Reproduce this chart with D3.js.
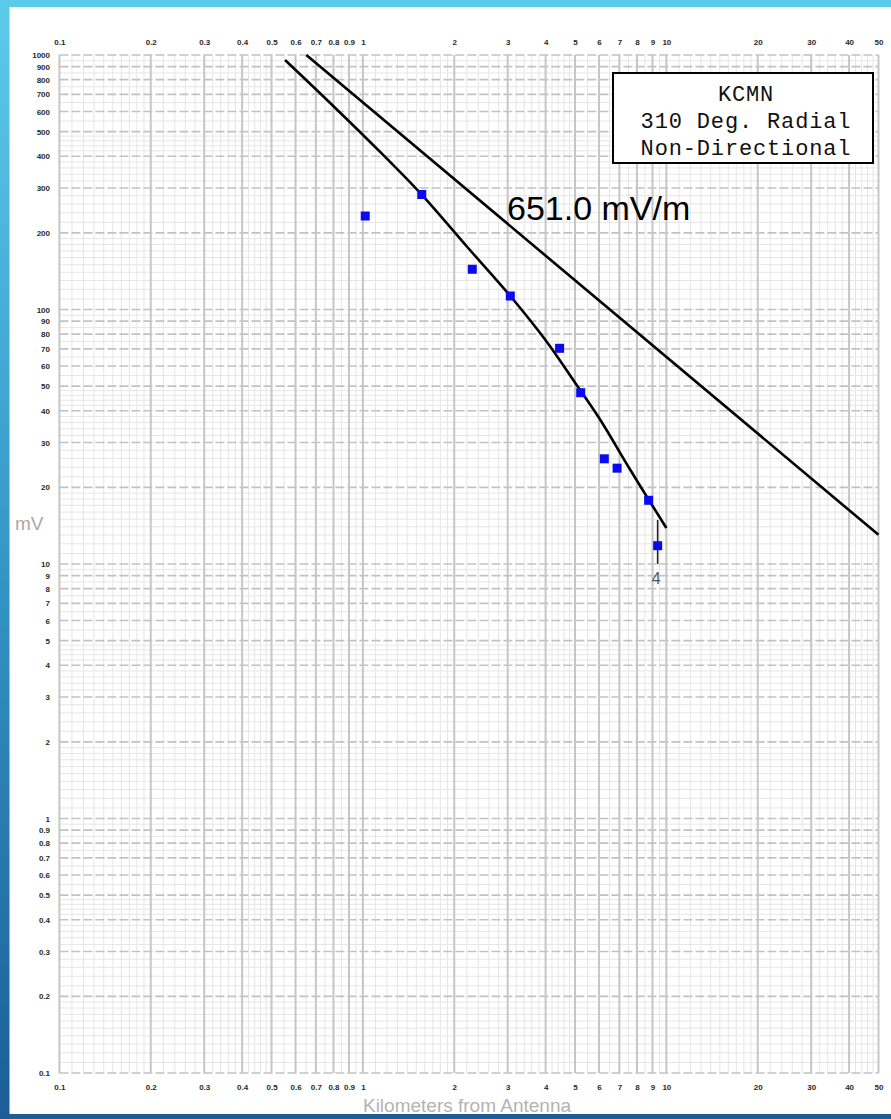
<!DOCTYPE html>
<html>
<head>
<meta charset="utf-8">
<script src="https://cdn.jsdelivr.net/npm/d3@7"></script>
<style>
  html, body { margin: 0; padding: 0; background: #fff; }
  svg { display: block; }
</style>
</head>
<body>
<script>
// Field strength measurements along the radial (distance km, field mV/m)
const measuredKm = [1.018, 1.563, 2.293, 3.06, 4.448, 5.22, 6.245, 6.88, 8.74, 9.36];
const measuredMv = [233, 283, 143.9, 113, 70.4, 47.1, 25.9, 23.8, 17.8, 11.8];

// Fitted ground-wave curve through the measurements
const curveKm = [0.554, 0.78, 1.14, 1.557, 2.19, 3.06, 3.99, 5.01, 6.06, 7.61, 10.0];
const curveMv = [956, 648, 416, 284, 178, 113, 76, 51.4, 36.8, 23.4, 13.85];

// Unattenuated field at 1 km; the inverse-distance line runs from 1000 mV/m out to 50 km
const unattenuatedMv = 651.0;
const inverseEndKm = 50;

// Last measurement marker
const markerKm = 9.36;
const markerFromMv = 14.9;
const markerToMv = 10;
const markerLabel = "4";

const xTickLabels = [0.1, 0.2, 0.3, 0.4, 0.5, 0.6, 0.7, 0.8, 0.9, 1, 2, 3, 4, 5, 6, 7, 8, 9, 10, 20, 30, 40, 50];
const yTickLabels = [1000, 900, 800, 700, 600, 500, 400, 300, 200, 100, 90, 80, 70, 60, 50, 40, 30, 20,
  10, 9, 8, 7, 6, 5, 4, 3, 2, 1, 0.9, 0.8, 0.7, 0.6, 0.5, 0.4, 0.3, 0.2, 0.1];

const legendLines = ["KCMN", "310 Deg. Radial", "Non-Directional"];
const fieldLabel = "651.0 mV/m";
const xTitle = "Kilometers from Antenna";
const yTitle = "mV";

const W = 891, H = 1119;
const svg = d3.select("body").append("svg").attr("width", W).attr("height", H);

const x = d3.scaleLog().domain([0.1, 50]).range([59.4, 878.5]);
const y = d3.scaleLog().domain([0.1, 1000]).range([1073, 55]);
const [x0, x1] = x.range();
const [y0, y1] = y.range();

// ---- graph paper ----
function majorValues(lo, hi) {
  const out = [];
  for (let e = Math.floor(Math.log10(lo)); e <= Math.ceil(Math.log10(hi)); e++) {
    for (let m = 1; m <= 9; m++) {
      const v = +(m * Math.pow(10, e)).toPrecision(6);
      if (v >= lo - 1e-9 && v <= hi + 1e-9) out.push(v);
    }
  }
  return out;
}
function minorValues(lo, hi) {
  const out = [];
  for (let e = Math.floor(Math.log10(lo)); e <= Math.ceil(Math.log10(hi)); e++) {
    const steps = [];
    for (let m = 11; m < 20; m++) steps.push(m);
    for (let m = 22; m < 50; m += 2) if (m % 10) steps.push(m);
    for (let m = 55; m < 100; m += 10) steps.push(m);
    steps.forEach(m => {
      const v = +(m / 10 * Math.pow(10, e)).toPrecision(6);
      if (v > lo && v < hi) out.push(v);
    });
  }
  return out;
}

const grid = svg.append("g");
grid.selectAll(".vmin").data(minorValues(0.1, 50)).join("line")
  .attr("x1", d => x(d)).attr("x2", d => x(d)).attr("y1", y1).attr("y2", y0)
  .attr("stroke", "#e6e6e6").attr("stroke-width", 1);
grid.selectAll(".hmin").data(minorValues(0.1, 1000)).join("line")
  .attr("y1", d => y(d)).attr("y2", d => y(d)).attr("x1", x0).attr("x2", x1)
  .attr("stroke", "#e6e6e6").attr("stroke-width", 1);
grid.selectAll(".hmaj").data(majorValues(0.1, 1000)).join("line")
  .attr("y1", d => y(d)).attr("y2", d => y(d)).attr("x1", x0).attr("x2", x1)
  .attr("stroke", "#c2c2c2").attr("stroke-width", 1.6).attr("stroke-dasharray", "9,3");
grid.selectAll(".vmaj").data(majorValues(0.1, 50)).join("line")
  .attr("x1", d => x(d)).attr("x2", d => x(d)).attr("y1", y1).attr("y2", y0)
  .attr("stroke", "#c6c6c6").attr("stroke-width", 2);

// ---- tick labels ----
const fmt = d => String(d);
function styleAxis(g) {
  g.select(".domain").remove();
  g.selectAll("text")
    .attr("font-family", "'Liberation Sans', Arial, sans-serif")
    .attr("font-size", 8).attr("font-weight", "bold").attr("fill", "#2a2a2a");
}
svg.append("g").attr("transform", "translate(0,45)")
  .call(d3.axisTop(x).tickValues(xTickLabels).tickFormat(fmt).tickSize(0).tickPadding(0))
  .call(styleAxis);
svg.append("g").attr("transform", `translate(0,${y0 + 11})`)
  .call(d3.axisBottom(x).tickValues(xTickLabels).tickFormat(fmt).tickSize(0).tickPadding(0))
  .call(styleAxis);
svg.append("g").attr("transform", "translate(50,0)")
  .call(d3.axisLeft(y).tickValues(yTickLabels).tickFormat(fmt).tickSize(0).tickPadding(0))
  .call(styleAxis);

// ---- curves ----
const inverseKm = [unattenuatedMv / 1000, inverseEndKm];
const straight = d3.line().x(d => x(d)).y(d => y(unattenuatedMv / d));
svg.append("path").attr("d", straight(inverseKm))
  .attr("fill", "none").attr("stroke", "#000").attr("stroke-width", 2.6);

const curvePts = curveKm.map((k, i) => [k, curveMv[i]]);
const smooth = d3.line().x(d => x(d[0])).y(d => y(d[1])).curve(d3.curveCatmullRom.alpha(0.5));
svg.append("path").attr("d", smooth(curvePts))
  .attr("fill", "none").attr("stroke", "#000").attr("stroke-width", 2.6)
  .attr("stroke-linejoin", "round");

// marker for the last measurement
svg.append("line")
  .attr("x1", x(markerKm)).attr("x2", x(markerKm))
  .attr("y1", y(markerFromMv)).attr("y2", y(markerToMv))
  .attr("stroke", "#222").attr("stroke-width", 1.6);
svg.append("text").attr("x", x(markerKm) - 1.5).attr("y", y(markerToMv) + 19.5)
  .attr("text-anchor", "middle")
  .attr("font-family", "'Liberation Sans', Arial, sans-serif").attr("font-size", 16)
  .attr("fill", "#555").text(markerLabel);

// measurement squares
const pts = measuredKm.map((k, i) => [k, measuredMv[i]]);
svg.selectAll(".pt").data(pts).join("rect")
  .attr("x", d => x(d[0]) - 4.5).attr("y", d => y(d[1]) - 4.5)
  .attr("width", 9).attr("height", 9).attr("fill", "#0a0af2");

// field label
svg.append("text").attr("x", 507).attr("y", 220)
  .attr("font-family", "'Liberation Sans', Arial, sans-serif").attr("font-size", 34)
  .attr("fill", "#000").text(fieldLabel);

// ---- legend ----
const lg = svg.append("g");
lg.append("rect").attr("x", 613).attr("y", 73).attr("width", 260).attr("height", 90)
  .attr("fill", "#fff").attr("stroke", "#000").attr("stroke-width", 2);
lg.selectAll("text").data(legendLines).join("text")
  .attr("x", 746).attr("y", (d, i) => 101 + i * 27)
  .attr("text-anchor", "middle")
  .attr("font-family", "'Liberation Mono', 'Courier New', monospace")
  .attr("font-size", 22).attr("letter-spacing", 0.85).attr("fill", "#111")
  .text(d => d);

// ---- axis titles ----
svg.append("text").attr("x", 15).attr("y", 530)
  .attr("font-family", "'Liberation Sans', Arial, sans-serif").attr("font-size", 19)
  .attr("fill", "#a9a9a9").text(yTitle);
svg.append("text").attr("x", 467).attr("y", 1111.5).attr("text-anchor", "middle")
  .attr("font-family", "'Liberation Sans', Arial, sans-serif").attr("font-size", 19)
  .attr("fill", "#b3b3b3").text(xTitle);

// ---- slide frame ----
const defs = svg.append("defs");
const lgr = defs.append("linearGradient").attr("id", "sideGrad")
  .attr("x1", 0).attr("y1", 0).attr("x2", 0).attr("y2", 1);
lgr.append("stop").attr("offset", "0%").attr("stop-color", "#5ccbea");
lgr.append("stop").attr("offset", "50%").attr("stop-color", "#3596c8");
lgr.append("stop").attr("offset", "100%").attr("stop-color", "#1b5d98");
svg.append("rect").attr("x", 0).attr("y", 0).attr("width", W).attr("height", 7).attr("fill", "#5ccbea");
svg.append("rect").attr("x", 0).attr("y", 0).attr("width", 9.5).attr("height", H).attr("fill", "url(#sideGrad)");
svg.append("rect").attr("x", 0).attr("y", 1114).attr("width", W).attr("height", H - 1114).attr("fill", "#1d5d97");
</script>
</body>
</html>
